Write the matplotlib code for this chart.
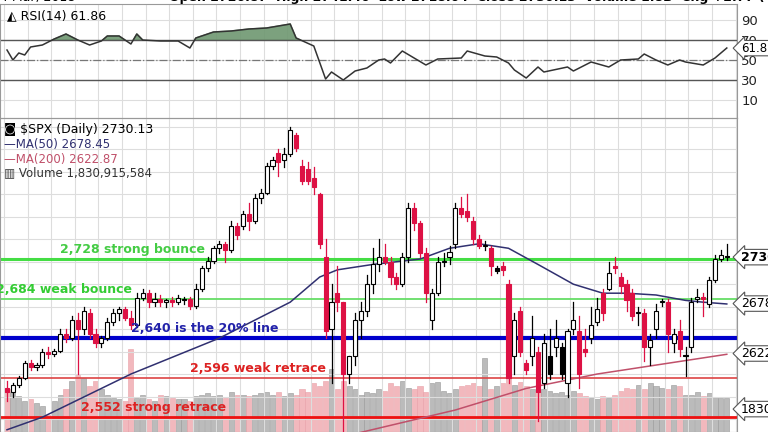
import matplotlib
matplotlib.use("Agg")
import matplotlib.pyplot as plt
from matplotlib.patches import Rectangle

opens = [2585,2580,2588,2596,2612,2608,2610,2625,2622,2626,2645,2640,2660,2650,2668,2645,2635,2640,2658,2668,2672,2662,2655,2685,2690,2680,2684,2680,2682,2680,2682,2683,2676,2695,2718,2726,2740,2745,2738,2765,2765,2778,2770,2796,2802,2832,2846,2838,2845,2866,2832,2828,2818,2800,2730,2650,2690,2680,2600,2620,2660,2670,2700,2722,2730,2725,2708,2700,2730,2785,2768,2735,2660,2690,2725,2730,2745,2785,2782,2770,2750,2742,2740,2715,2720,2700,2620,2670,2612,2620,2625,2590,2600,2630,
         2600,2590,2650,2648,2628,2640,2658,2690,2695,2720,2708,2700,2690,2668,2668,2630,2650,2680,2680,2635,2648,2620,2630,2683,2686,2678,2705,2728,2730]
highs = [2592,2590,2598,2615,2616,2612,2628,2630,2628,2650,2650,2665,2668,2675,2672,2650,2642,2662,2672,2675,2675,2670,2690,2695,2694,2690,2688,2684,2686,2688,2686,2686,2700,2720,2730,2742,2748,2747,2770,2768,2782,2790,2800,2806,2835,2842,2850,2852,2875,2868,2838,2836,2830,2802,2750,2700,2720,2680,2620,2668,2680,2710,2740,2750,2745,2730,2712,2735,2790,2790,2770,2740,2695,2730,2735,2742,2790,2797,2800,2775,2755,2748,2742,2720,2725,2705,2668,2675,2616,2665,2630,2645,2650,2660,
         2635,2650,2680,2665,2650,2675,2685,2695,2725,2730,2712,2705,2695,2675,2672,2645,2678,2684,2683,2650,2660,2630,2685,2695,2690,2708,2732,2738,2745]
lows = [2570,2575,2586,2594,2605,2604,2608,2618,2620,2624,2636,2638,2600,2645,2640,2630,2630,2638,2655,2660,2660,2650,2652,2682,2675,2676,2676,2675,2676,2678,2678,2672,2674,2692,2715,2724,2735,2725,2736,2750,2762,2760,2768,2790,2800,2828,2820,2830,2843,2848,2812,2812,2800,2740,2640,2590,2670,2532,2590,2610,2640,2665,2690,2715,2722,2700,2695,2698,2725,2760,2730,2680,2650,2688,2720,2722,2740,2775,2770,2745,2740,2738,2710,2712,2710,2590,2600,2620,2600,2610,2548,2585,2595,2620,
        2595,2575,2645,2585,2620,2635,2655,2660,2693,2712,2690,2670,2660,2655,2615,2610,2640,2676,2625,2625,2620,2598,2625,2680,2665,2675,2702,2726,2727]
closes = [2580,2588,2596,2612,2608,2610,2625,2622,2626,2645,2640,2660,2650,2670,2645,2635,2640,2658,2668,2672,2662,2655,2685,2690,2680,2684,2680,2682,2680,2685,2683,2676,2695,2718,2726,2740,2745,2738,2765,2755,2778,2770,2796,2802,2832,2838,2836,2845,2872,2852,2815,2815,2808,2745,2648,2680,2680,2600,2620,2660,2670,2700,2722,2730,2725,2708,2700,2730,2785,2768,2735,2690,2690,2725,2726,2736,2785,2778,2775,2750,2742,2744,2720,2718,2716,2596,2660,2625,2605,2640,2580,2635,2620,2640,
          2630,2648,2660,2600,2625,2655,2672,2668,2712,2718,2698,2682,2665,2668,2630,2638,2670,2680,2645,2645,2628,2620,2680,2686,2683,2705,2728,2733,2730]
volumes = [3.0,2.8,2.5,2.2,2.3,2.0,1.8,1.2,2.2,2.6,3.0,3.6,4.0,3.8,3.2,3.6,3.0,2.6,2.4,2.3,2.2,5.8,2.4,2.6,2.3,2.2,2.6,2.5,2.4,2.3,2.3,2.2,2.5,2.6,2.7,2.5,2.6,2.4,2.8,2.6,2.6,2.5,2.6,2.7,2.8,2.6,2.8,2.5,2.7,2.6,3.0,2.8,3.4,3.2,3.6,4.4,3.0,3.6,3.2,3.0,2.6,2.8,2.7,3.0,2.9,3.4,3.2,3.6,3.1,3.0,3.2,2.8,3.4,3.5,2.9,2.7,3.0,3.2,3.3,3.4,3.2,5.2,3.0,3.2,3.4,3.8,3.3,3.5,3.2,3.0,2.8,3.0,2.9,2.7,
           2.8,2.6,2.9,2.7,2.5,2.4,2.3,2.5,2.4,2.6,2.9,3.1,3.0,3.3,3.0,3.4,3.2,3.1,3.0,3.3,3.2,2.6,2.6,2.8,2.5,2.7,2.4,2.4,2.4]
ma50_day = [0,6,21,36,48,53,56,62,70,75,80,85,90,96,101,105,110,115,118,122]
ma50_val = [2538,2552,2600,2640,2680,2708,2716,2722,2728,2740,2745,2740,2722,2700,2690,2690,2688,2682,2680,2678]
ma200_day = [58,76,88,100,112,122]
ma200_val = [2532,2560,2584,2600,2612,2622]
rsi_day = [0,1,2,3,4,6,8,10,12,14,16,17,19,21,22,23,26,29,31,32,35,38,41,44,48,49,52,54,55,57,59,61,63,64,65,67,71,73,77,78,81,83,85,86,88,90,91,95,96,99,102,104,107,108,110,112,114,115,118,120,122]
rsi_val = [60,50,57,55,63,65,71,76,70,65,69,74,74,66,76,70,69,69,62,72,78,79,81,82,86,72,64,31,38,30,39,42,50,51,47,59,45,51,52,59,54,53,47,40,32,43,38,43,39,48,43,50,51,56,50,45,50,48,45,52,62]
levels = [2728,2684,2640,2596,2552]
level_text = ["2,728 strong bounce","2,684 weak bounce","2,640 is the 20% line","2,596 weak retrace","2,552 strong retrace"]
price_ticks = [2550,2575,2600,2625,2650,2675,2700,2725,2750,2775,2800,2825,2850,2875]
rsi_ticks = [10,30,50,70,90]

W, H = 768, 432
SP = 5.9
fig = plt.figure(figsize=(7.68,4.32), dpi=100)
fig.patch.set_facecolor("white")
axw = 737/W
rax = fig.add_axes([0, 1-118/H, axw, 114/H])
pax = fig.add_axes([0, 0, axw, 314/H])
n = len(closes)
xl = (-7/SP, (737-7)/SP)
vgrid = [i for i in range(0, n+2, 4)]
for ax in (rax, pax):
    ax.set_xlim(*xl)
    for s in ax.spines.values():
        s.set_color("#999999"); s.set_linewidth(0.8)
    ax.set_xticks([])
    for v in vgrid:
        ax.axvline(v-0.5, color="#dddddd", lw=0.8, zorder=0)
    ax.yaxis.tick_right()
    ax.tick_params(axis="y", length=0, labelsize=9.5, pad=3, colors="#222222")

# RSI
rax.set_ylim(-8, 106)
rax.set_yticks(rsi_ticks)
for t in rsi_ticks:
    rax.axhline(t, color="#dddddd", lw=0.8, zorder=0)
rax.axhline(70, color="#555555", lw=1)
rax.axhline(30, color="#555555", lw=1)
rax.axhline(50, color="#777777", lw=0.9, ls="-.")
rax.plot(rsi_day, rsi_val, color="#333333", lw=1.1)
rax.fill_between(rsi_day, rsi_val, 70, where=[v > 70 for v in rsi_val], interpolate=True, color="#6e9770", alpha=0.9)
rax.text(0.01, 0.9, "◭ RSI(14) 61.86", transform=rax.transAxes, fontsize=9, va="center")
rax.annotate("61.86", xy=(1.0, 61.86), xycoords=("axes fraction","data"), fontsize=8.5, va="center",
             bbox=dict(boxstyle="larrow,pad=0.1", fc="white", ec="#555555", lw=0.8), annotation_clip=False, xytext=(3,0), textcoords="offset points")

# price
pax.set_ylim(2535.5, 2885)
pax.set_yticks(price_ticks)
for t in price_ticks:
    pax.axhline(t, color="#dddddd", lw=0.8, zorder=0)
vax = pax.twinx()
vax.set_ylim(0, 22)
vax.axis("off")
vax.set_zorder(0); pax.set_zorder(1); pax.patch.set_visible(False)
for i in range(n):
    up = closes[i] >= opens[i]
    vax.bar(i, volumes[i], width=0.85, color="#bbbbbb" if up else "#f2b8bd", ec="#999999" if up else "#e8a0a8", lw=0.4)
pax.plot(ma50_day, ma50_val, color="#303070", lw=1.1, zorder=3)
pax.plot(ma200_day, ma200_val, color="#c0506a", lw=1.1, zorder=3)
for i in range(n):
    o, h, l, c = opens[i], highs[i], lows[i], closes[i]
    up = c >= o
    prevc = closes[i-1] if i else o
    if up:
        fc = "black" if c < prevc else "white"; ec = "black"; wc = "black"
    else:
        fc = "#dd1144"; ec = "#dd1144"; wc = "#dd1144"
    pax.plot([i, i], [l, h], color=wc, lw=0.9, zorder=4)
    pax.add_patch(Rectangle((i-0.35, min(o, c)), 0.7, max(abs(c-o), 1.2), fc=fc, ec=ec, lw=0.8, zorder=5))

lcol = ["#44dd44","#66dd66","#0000cc","#dd4444","#ee1111"]
lw = [2.2,1.3,3,1.2,2]
tx = [9,-1.8,21,31,12.5]
tc = ["#44cc44","#33cc33","#2222aa","#dd2222","#dd2222"]
for y, t, c, w, x, cc in zip(levels, level_text, lcol, lw, tx, tc):
    pax.axhline(y, color=c, lw=w, zorder=2)
    pax.text(x, y+3, t, color=cc, fontsize=9, fontweight="bold", zorder=6, va="bottom")

pax.text(0.005, 0.985, "◙ $SPX (Daily) 2730.13", transform=pax.transAxes, fontsize=9, va="top")
pax.text(0.005, 0.935, "—MA(50) 2678.45", transform=pax.transAxes, fontsize=8.5, va="top", color="#303070")
pax.text(0.005, 0.89, "—MA(200) 2622.87", transform=pax.transAxes, fontsize=8.5, va="top", color="#c0506a")
pax.text(0.005, 0.845, "▥ Volume 1,830,915,584", transform=pax.transAxes, fontsize=8.5, va="top", color="#333333")
for val, lab, bold in [(2730.13, "2730.", True), (2678.45, "2678", False), (2622.87, "2622", False), (2561, "1830", False)]:
    pax.annotate(lab, xy=(1.0, val), xycoords=("axes fraction","data"), xytext=(3,0), textcoords="offset points",
                 fontsize=9, va="center", fontweight="bold" if bold else "normal", zorder=10,
                 bbox=dict(boxstyle="larrow,pad=0.1", fc="white", ec="#555555", lw=0.8), annotation_clip=False)
fig.text(0.0, 1.005, "4 Mar, 2018", fontsize=9, va="center")
fig.text(0.22, 1.005, "Open 2726.87  High 2741.40  Low 2718.04  Close 2730.13  Volume 1.8B  Chg +2.77 (+0.10%)", fontsize=9, va="center", fontweight="bold")
fig.savefig("out.png", dpi=100)
